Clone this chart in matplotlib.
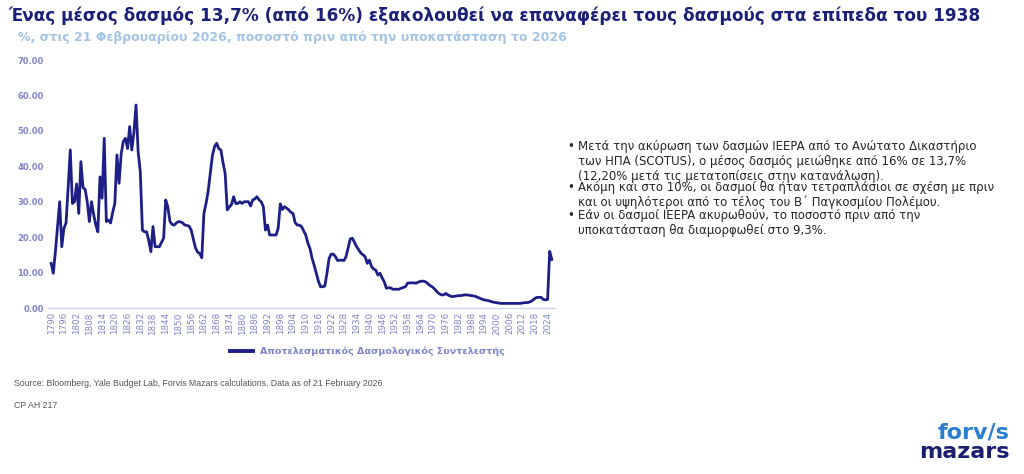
import matplotlib
matplotlib.use("Agg")
import matplotlib.pyplot as plt
import numpy as np

years = list(range(1790, 2027))
tariff = [
    # 1790-1799
    12.6, 9.8, 16.0, 23.0, 30.0, 17.3, 22.5, 24.0, 34.0, 44.6,
    # 1800-1809
    29.5, 30.0, 35.0, 26.7, 41.3, 34.0, 33.5, 30.0, 24.4, 30.0,
    # 1810-1819
    26.5, 23.5, 21.5, 37.0, 31.0, 47.9, 24.4, 24.8, 24.0, 27.0,
    # 1820-1829
    29.5, 43.2, 35.2, 43.5, 47.0, 47.9, 45.0, 51.2, 44.6, 49.5,
    # 1830-1839
    57.3, 44.0, 38.5, 22.0, 21.5, 21.5, 19.0, 15.9, 23.0, 17.3,
    # 1840-1849
    17.3, 17.3, 18.5, 19.7, 30.5, 28.5, 24.4, 23.6, 23.4, 24.0,
    # 1850-1859
    24.4, 24.3, 24.0, 23.4, 23.3, 23.1, 22.0, 19.5, 17.0, 15.8,
    # 1860-1869
    15.4, 14.2, 26.7, 29.5, 33.0, 38.0, 43.0, 45.5, 46.5, 45.0,
    # 1870-1879
    44.6, 41.0, 38.0, 27.7, 28.5, 29.2, 31.4, 29.5, 29.5, 30.0,
    # 1880-1889
    29.5, 30.0, 30.0, 30.0, 28.8, 30.5, 30.8, 31.4, 30.5, 30.0,
    # 1890-1899
    28.6, 22.0, 23.4, 20.6, 20.6, 20.6, 20.6, 22.5, 29.4, 27.8,
    # 1900-1909
    28.6, 28.2, 27.7, 27.0, 26.7, 24.1, 23.4, 23.4, 23.0, 21.8,
    # 1910-1919
    20.6, 18.3, 16.8, 14.0, 12.0, 9.8, 7.5, 6.0, 6.0, 6.2,
    # 1920-1929
    9.8, 14.0, 15.2, 15.2, 14.5, 13.4, 13.5, 13.5, 13.4, 14.5,
    # 1930-1939
    17.0, 19.5, 19.7, 18.5, 17.3, 16.4, 15.5, 15.0, 14.5, 12.6,
    # 1940-1949
    13.5, 11.7, 11.0, 10.7, 9.3, 9.8, 8.5, 7.4, 5.6, 5.7,
    # 1950-1959
    5.7, 5.3, 5.3, 5.3, 5.3, 5.6, 5.8, 6.0, 7.0, 7.1,
    # 1960-1969
    7.1, 7.1, 7.0, 7.3, 7.5, 7.6, 7.5, 7.2, 6.6, 6.2,
    # 1970-1979
    5.8, 5.2, 4.5, 4.0, 3.7, 3.7, 4.1, 3.7, 3.4, 3.2,
    # 1980-1989
    3.3, 3.4, 3.5, 3.5, 3.6, 3.7, 3.7, 3.6, 3.5, 3.4,
    # 1990-1999
    3.3, 3.0, 2.8, 2.5, 2.3, 2.2, 2.1, 1.9, 1.7, 1.6,
    # 2000-2009
    1.5, 1.4, 1.3, 1.3, 1.3, 1.3, 1.3, 1.3, 1.3, 1.3,
    # 2010-2019
    1.3, 1.3, 1.4, 1.5, 1.5, 1.6, 1.8, 2.2, 2.7, 3.0,
    # 2020-2026
    3.0, 3.0, 2.4, 2.3, 2.4, 16.0, 13.7,
]
assert len(years) == len(tariff)

tick_years = list(range(1790, 2025, 6))
yticks = [0, 10, 20, 30, 40, 50, 60, 70]

title = "Ένας μέσος δασμός 13,7% (από 16%) εξακολουθεί να επαναφέρει τους δασμούς στα επίπεδα του 1938"
subtitle = "%, στις 21 Φεβρουαρίου 2026, ποσοστό πριν από την υποκατάσταση το 2026"
series_name = "Αποτελεσματικός Δασμολογικός Συντελεστής"
bullets = [
    "Μετά την ακύρωση των δασμών IEEPA από το Ανώτατο Δικαστήριο\n"
    "των ΗΠΑ (SCOTUS), ο μέσος δασμός μειώθηκε από 16% σε 13,7%\n"
    "(12,20% μετά τις μετατοπίσεις στην κατανάλωση).",
    "Ακόμη και στο 10%, οι δασμοί θα ήταν τετραπλάσιοι σε σχέση με πριν\n"
    "και οι υψηλότεροι από το τέλος του Β΄ Παγκοσμίου Πολέμου.",
    "Εάν οι δασμοί IEEPA ακυρωθούν, το ποσοστό πριν από την\n"
    "υποκατάσταση θα διαμορφωθεί στο 9,3%.",
]
source = "Source: Bloomberg, Yale Budget Lab, Forvis Mazars calculations, Data as of 21 February 2026"
code = "CP AH 217"

navy = "#1c1f86"
tick_col = "#7f84c8"
axis_col = "#d4d7f0"

plt.rcParams['font.family'] = ['DejaVu Sans']

fig = plt.figure(figsize=(10.24, 4.74), dpi=100)
fig.patch.set_facecolor("white")

ax = fig.add_axes([48/1024, (474-308)/474, (555-48)/1024, (308-60)/474])
ax.plot(years, tariff, color=navy, lw=2.0, solid_joinstyle="round",
        label=series_name)
ax.set_ylim(0, 70)
ax.set_xlim(1788.5, 2027.5)
ax.set_yticks(yticks)
ax.set_yticklabels([f"{v:.2f}" for v in yticks], fontsize=6, color=tick_col,
                   fontweight="bold")
ax.set_xticks(tick_years)
ax.set_xticklabels([str(y) for y in tick_years], rotation=90, fontsize=6.3,
                   color=tick_col)
ax.tick_params(axis="both", length=0, pad=3)
for s in ["top", "right", "left"]:
    ax.spines[s].set_visible(False)
ax.spines["bottom"].set_color(axis_col)
ax.spines["bottom"].set_linewidth(1.0)

leg = ax.legend(loc="center", bbox_to_anchor=(0.63, -0.175), frameon=False,
                fontsize=6.8, handlelength=2.4, handletextpad=0.8)
for t in leg.get_texts():
    t.set_color(tick_col)
    t.set_fontweight("bold")
for l in leg.get_lines():
    l.set_linewidth(2.8)

fig.text(8/1024, 1 - 16/474, title, fontsize=12.2, fontweight="bold",
         color="#1c2178", va="center", ha="left")
fig.text(18/1024, 1 - 38/474, subtitle, fontsize=9.0, fontweight="bold",
         color="#a3c4e4", va="center", ha="left")

ys = [140, 181, 209]
for b, yy in zip(bullets, ys):
    fig.text(567/1024, 1 - yy/474, "•", fontsize=8.45, color="#262626",
             va="top", ha="left")
    fig.text(578/1024, 1 - yy/474, b, fontsize=8.45, color="#262626",
             va="top", ha="left", linespacing=1.19)

fig.text(14/1024, 1 - 384/474, source, fontsize=6.3, color="#555555",
         family=["Liberation Sans", "DejaVu Sans"], va="center", ha="left")
fig.text(14/1024, 1 - 406/474, code, fontsize=6.3, color="#555555",
         family=["Liberation Sans", "DejaVu Sans"], va="center", ha="left")

fig.text(1010/1024, 1 - 433/474, "forv/s", fontsize=16, fontweight="bold",
         color="#2a7fd0", va="center", ha="right")
fig.text(1010/1024, 1 - 452/474, "mazars", fontsize=16, fontweight="bold",
         color="#1c1f6e", va="center", ha="right")

fig.savefig("out.png", dpi=100, facecolor="white")
